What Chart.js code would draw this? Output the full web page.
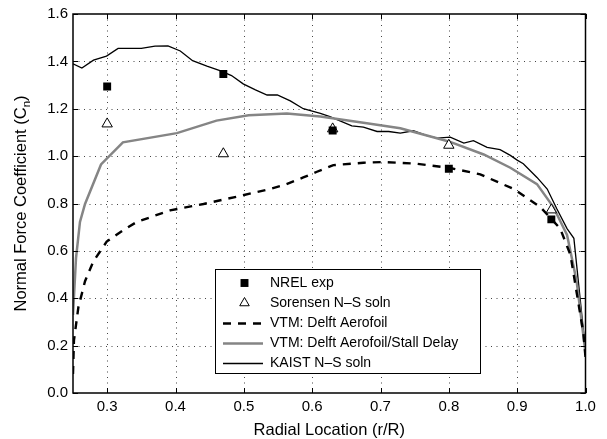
<!DOCTYPE html>
<html><head><meta charset="utf-8">
<script src="https://cdn.jsdelivr.net/npm/chart.js@4/dist/chart.umd.min.js"></script>
<style>html,body{margin:0;padding:0;background:#fff}#wrap{width:607px;height:439px}</style>
</head><body><div id="wrap"><canvas id="c" width="607" height="439"></canvas></div>
<script>
// ---- tick values / labels ----
const xTickValues = [0.3, 0.4, 0.5, 0.6, 0.7, 0.8, 0.9, 1.0];
const xTickLabels = ['0.3', '0.4', '0.5', '0.6', '0.7', '0.8', '0.9', '1.0'];
const yTickValues = [0.0, 0.2, 0.4, 0.6, 0.8, 1.0, 1.2, 1.4, 1.6];
const yTickLabels = ['0.0', '0.2', '0.4', '0.6', '0.8', '1.0', '1.2', '1.4', '1.6'];

// ---- series ----
const nrelR  = [0.30, 0.47, 0.63, 0.80, 0.95];
const nrelCn = [1.294, 1.347, 1.108, 0.947, 0.733];

const sorensenR  = [0.30, 0.47, 0.63, 0.80, 0.95];
const sorensenCn = [1.136, 1.010, 1.115, 1.046, 0.773];

const delftR  = [0.25, 0.2514, 0.2578, 0.2676, 0.2797, 0.2993, 0.3236, 0.3433, 0.392, 0.441, 0.490, 0.538, 0.560, 0.587, 0.607, 0.631, 0.675, 0.704, 0.753, 0.800, 0.846, 0.895, 0.934, 0.963, 0.978, 0.997, 1.0];
const delftCn = [0.08, 0.222, 0.361, 0.472, 0.555, 0.639, 0.6875, 0.722, 0.771, 0.798, 0.829, 0.861, 0.879, 0.910, 0.934, 0.962, 0.972, 0.975, 0.968, 0.951, 0.923, 0.861, 0.785, 0.694, 0.583, 0.25, 0.15];

const stallR  = [0.25, 0.2544, 0.2602, 0.2676, 0.291, 0.323, 0.402, 0.460, 0.507, 0.563, 0.612, 0.680, 0.729, 0.800, 0.851, 0.890, 0.929, 0.953, 0.973, 0.987, 1.0];
const stallCn = [0.33, 0.569, 0.722, 0.798, 0.965, 1.058, 1.097, 1.150, 1.173, 1.180, 1.167, 1.139, 1.118, 1.062, 1.007, 0.951, 0.882, 0.785, 0.667, 0.472, 0.17];

const kaistR  = [0.25, 0.263, 0.280, 0.299, 0.316, 0.350, 0.370, 0.389, 0.407, 0.425, 0.446, 0.465, 0.482, 0.499, 0.517, 0.534, 0.549, 0.568, 0.587, 0.612, 0.626, 0.658, 0.675, 0.695, 0.712, 0.729, 0.748, 0.768, 0.783, 0.802, 0.822, 0.836, 0.856, 0.875, 0.890, 0.900, 0.909, 0.929, 0.944, 0.958, 0.973, 0.983, 1.0];
const kaistCn = [1.390, 1.372, 1.405, 1.422, 1.455, 1.455, 1.464, 1.465, 1.444, 1.403, 1.380, 1.361, 1.340, 1.305, 1.280, 1.258, 1.258, 1.233, 1.200, 1.180, 1.167, 1.128, 1.122, 1.104, 1.104, 1.097, 1.107, 1.087, 1.076, 1.080, 1.055, 1.065, 1.037, 1.027, 1.003, 0.983, 0.968, 0.910, 0.861, 0.778, 0.694, 0.653, 0.18];

const seriesNames = ['NREL exp', 'Sorensen N\u2013S soln', 'VTM: Delft Aerofoil', 'VTM: Delft Aerofoil/Stall Delay', 'KAIST N\u2013S soln'];

const pts = (xs, ys) => xs.map((x, i) => ({x: x, y: ys[i]}));
const FONT = '"Liberation Sans", Arial, Helvetica, sans-serif';

const framePlugin = {
  id: 'frame',
  beforeDatasetsDraw(chart) {
    const {ctx, chartArea: a, scales: {x, y}} = chart;
    ctx.save();
    ctx.strokeStyle = '#444';
    ctx.lineWidth = 1;
    ctx.setLineDash([1, 4.5]);
    xTickValues.forEach(v => {
      if (v <= 0.25 || v >= 1.0) return;
      const px = Math.round(x.getPixelForValue(v)) + 0.5;
      ctx.beginPath(); ctx.moveTo(px, a.top); ctx.lineTo(px, a.bottom); ctx.stroke();
    });
    yTickValues.forEach(v => {
      if (v <= 0 || v >= 1.6) return;
      const py = Math.round(y.getPixelForValue(v)) + 0.5;
      ctx.beginPath(); ctx.moveTo(a.left, py); ctx.lineTo(a.right, py); ctx.stroke();
    });
    ctx.restore();
  },
  afterDatasetsDraw(chart) {
    const {ctx, chartArea: a, scales: {x, y}} = chart;
    ctx.save();
    // box
    ctx.setLineDash([]);
    ctx.strokeStyle = '#000';
    ctx.lineWidth = 1.5;
    ctx.strokeRect(a.left, a.top, a.right - a.left, a.bottom - a.top);
    // inward ticks
    ctx.lineWidth = 1;
    const tl = 5;
    xTickValues.forEach(v => {
      const px = Math.round(x.getPixelForValue(v)) + 0.5;
      ctx.beginPath();
      ctx.moveTo(px, a.bottom); ctx.lineTo(px, a.bottom - tl);
      ctx.moveTo(px, a.top); ctx.lineTo(px, a.top + tl);
      ctx.stroke();
    });
    yTickValues.forEach(v => {
      const py = Math.round(y.getPixelForValue(v)) + 0.5;
      ctx.beginPath();
      ctx.moveTo(a.left, py); ctx.lineTo(a.left + tl, py);
      ctx.moveTo(a.right, py); ctx.lineTo(a.right - tl, py);
      ctx.stroke();
    });

    // axis titles
    ctx.fillStyle = '#000';
    ctx.font = '16.5px ' + FONT;
    ctx.textAlign = 'center';
    ctx.textBaseline = 'alphabetic';
    ctx.fillText('Radial Location (r/R)', (a.left + a.right) / 2, 435);

    // y title with subscript
    const main = 'Normal Force Coefficient (C';
    const sub = 'n';
    const close = ')';
    ctx.font = '16.5px ' + FONT;
    const wMain = ctx.measureText(main).width;
    const wClose = ctx.measureText(close).width;
    ctx.font = '11.5px ' + FONT;
    const wSub = ctx.measureText(sub).width;
    const total = wMain + wSub + wClose;
    ctx.translate(26, (a.top + a.bottom) / 2);
    ctx.rotate(-Math.PI / 2);
    ctx.textAlign = 'left';
    let sx = -total / 2;
    ctx.font = '16.5px ' + FONT;
    ctx.fillText(main, sx, 0);
    sx += wMain;
    ctx.font = '11.5px ' + FONT;
    ctx.fillText(sub, sx, 4);
    sx += wSub;
    ctx.font = '16.5px ' + FONT;
    ctx.fillText(close, sx, 0);
    ctx.restore();

    // legend
    ctx.save();
    const L = 215, T = 269, R = 480, B = 373;
    ctx.fillStyle = '#fff';
    ctx.fillRect(L, T, R - L, B - T);
    ctx.strokeStyle = '#000';
    ctx.lineWidth = 1;
    ctx.strokeRect(L + 0.5, T + 0.5, R - L, B - T);
    ctx.font = '14px ' + FONT;
    ctx.textBaseline = 'middle';
    ctx.textAlign = 'left';
    chart.data.datasets.forEach((ds, i) => {
      const cy = 283 + i * 20;
      if (ds.showLine === false) {
        const cx = 244.5;
        ctx.setLineDash([]);
        ctx.lineWidth = ds.borderWidth || 1;
        ctx.strokeStyle = ds.borderColor;
        ctx.fillStyle = ds.backgroundColor;
        if (ds.pointStyle === 'rect') {
          const s = ds.pointRadius * Math.SQRT1_2;
          ctx.fillRect(cx - s, cy - s, 2 * s, 2 * s);
        } else {
          const r = ds.legendRadius;
          ctx.beginPath();
          ctx.moveTo(cx, cy - r);
          ctx.lineTo(cx + r * 0.866, cy + r * 0.5);
          ctx.lineTo(cx - r * 0.866, cy + r * 0.5);
          ctx.closePath();
          ctx.fill(); ctx.stroke();
        }
      } else {
        ctx.setLineDash(ds.borderDash || []);
        ctx.lineWidth = ds.borderWidth;
        ctx.strokeStyle = ds.borderColor;
        ctx.beginPath(); ctx.moveTo(223, cy + 0.5); ctx.lineTo(263, cy + 0.5); ctx.stroke();
      }
      ctx.setLineDash([]);
      ctx.fillStyle = '#000';
      ctx.fillText(ds.label, 270, cy + 0.5);
    });
    ctx.restore();
  }
};

new Chart(document.getElementById('c'), {
  type: 'line',
  data: {
    datasets: [
      {label: seriesNames[0], data: pts(nrelR, nrelCn), showLine: false, pointStyle: 'rect', pointRadius: 5.6, pointBackgroundColor: '#000', backgroundColor: '#000', borderColor: '#000', pointBorderColor: '#000', pointBorderWidth: 0, borderWidth: 0},
      {label: seriesNames[1], data: pts(sorensenR, sorensenCn), showLine: false, pointStyle: 'triangle', pointRadius: 6, legendRadius: 5.5, pointBackgroundColor: '#fff', backgroundColor: '#fff', borderColor: '#000', pointBorderColor: '#000', pointBorderWidth: 1, borderWidth: 1},
      {label: seriesNames[2], data: pts(delftR, delftCn), borderColor: '#000', borderWidth: 2.4, borderDash: [8, 7], pointRadius: 0, fill: false, tension: 0},
      {label: seriesNames[3], data: pts(stallR, stallCn), borderColor: '#858585', borderWidth: 2.5, pointRadius: 0, fill: false, tension: 0},
      {label: seriesNames[4], data: pts(kaistR, kaistCn), borderColor: '#000', borderWidth: 1.3, pointRadius: 0, fill: false, tension: 0}
    ]
  },
  options: {
    responsive: false,
    animation: false,
    devicePixelRatio: 1,
    layout: {padding: {top: 9, right: 21.5, left: 0, bottom: 0}},
    plugins: {legend: {display: false}, tooltip: {enabled: false}, title: {display: false}},
    scales: {
      x: {
        type: 'linear', min: 0.25, max: 1.0,
        afterBuildTicks: s => { s.ticks = xTickValues.map(v => ({value: v})); },
        afterFit: s => { s.height = 46; },
        grid: {display: false, drawTicks: false},
        border: {display: false},
        ticks: {autoSkip: false, maxRotation: 0, padding: 5, color: '#000', font: {family: FONT, size: 15},
          callback: (v, i) => xTickLabels[i]}
      },
      y: {
        type: 'linear', min: 0, max: 1.6,
        afterBuildTicks: s => { s.ticks = yTickValues.map(v => ({value: v})); },
        afterFit: s => { s.width = 73; },
        grid: {display: false, drawTicks: false},
        border: {display: false},
        ticks: {autoSkip: false, padding: 5, color: '#000', font: {family: FONT, size: 15},
          callback: (v, i) => yTickLabels[i]}
      }
    }
  },
  plugins: [framePlugin]
});
</script>
</body></html>
